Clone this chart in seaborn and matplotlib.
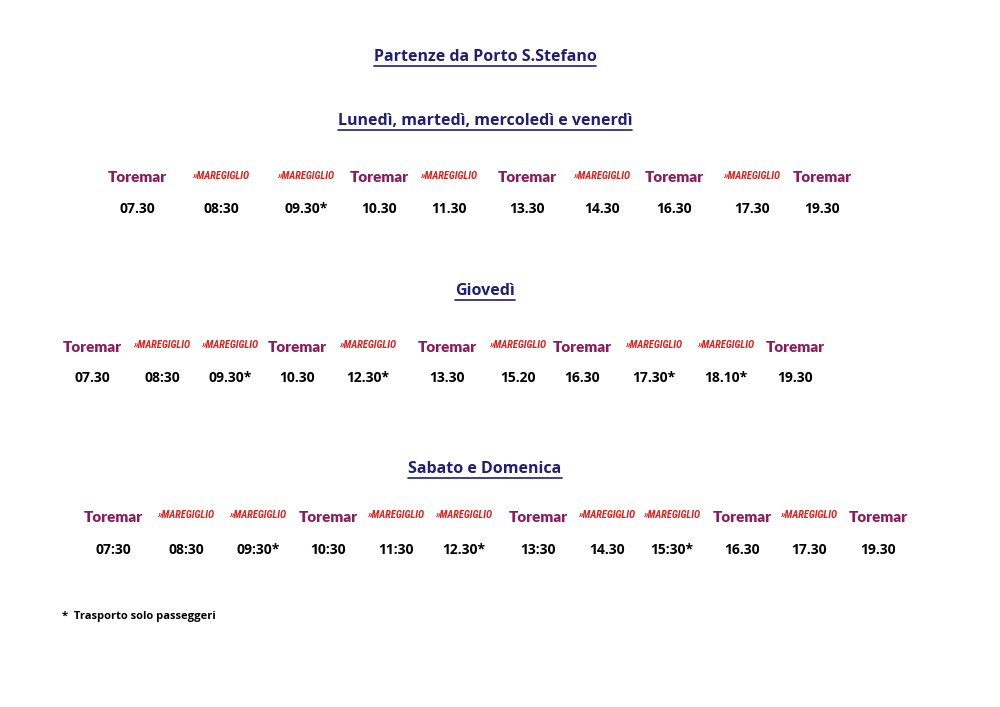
import matplotlib
matplotlib.use("Agg")
import matplotlib.pyplot as plt
import seaborn as sns

sns.set_theme(style="white")
plt.rcParams["font.family"] = ["Open Sans", "DejaVu Sans"]

title = "Partenze da Porto S.Stefano"
footnote = "*  Trasporto solo passeggeri"

days_1 = "Lunedì, martedì, mercoledì e venerdì"
ops_1 = ["T", "M", "M", "T", "M", "T", "M", "T", "M", "T"]
times_1 = ["07.30", "08:30", "09.30*", "10.30", "11.30", "13.30", "14.30", "16.30", "17.30", "19.30"]

days_2 = "Giovedì"
ops_2 = ["T", "M", "M", "T", "M", "T", "M", "T", "M", "M", "T"]
times_2 = ["07.30", "08:30", "09.30*", "10.30", "12.30*", "13.30", "15.20", "16.30", "17.30*", "18.10*", "19.30"]

days_3 = "Sabato e Domenica"
ops_3 = ["T", "M", "M", "T", "M", "M", "T", "M", "M", "T", "M", "T"]
times_3 = ["07:30", "08:30", "09:30*", "10:30", "11:30", "12.30*", "13:30", "14.30", "15:30*", "16.30", "17.30", "19.30"]

# layout: column centres (pixels)
cols_1 = [137, 221, 306, 379, 449, 527, 602, 674, 752, 822]
cols_2 = [92, 162, 230, 297, 368, 447, 518, 582, 654, 726, 795]
cols_3 = [113, 186, 258, 328, 396, 464, 538, 607, 672, 742, 809, 878]

fig = plt.figure(figsize=(10, 7.07), dpi=100)
ax = fig.add_axes([0, 0, 1, 1])
ax.set_xlim(0, 1000)
ax.set_ylim(707, 0)
ax.axis("off")

navy = "#1f1f7a"
purple = "#8c1c5c"
red = "#e0201c"

heads = []


def heading(y, text):
    t = ax.text(485, y, text, ha="center", va="center", fontsize=11.5,
                fontweight="bold", color=navy)
    heads.append(t)


def section(y_logo, y_time, ops, times, cols):
    for op, tm, x in zip(ops, times, cols):
        if op == "T":
            ax.text(x, y_logo, "Toremar", ha="center", va="center", fontsize=11,
                    fontweight="heavy", color=purple, family=["Lato", "DejaVu Sans"])
        else:
            ax.text(x, y_logo - 2, "»MAREGIGLIO", ha="center", va="center", fontsize=7.5,
                    fontweight="bold", fontstyle="italic", color=red,
                    family=["Roboto Condensed", "Liberation Sans Narrow", "DejaVu Sans"])
        ax.text(x, y_time, tm, ha="center", va="center", fontsize=10,
                fontweight="bold", color="black")


heading(57, title)
heading(121, days_1)
section(178, 209, ops_1, times_1, cols_1)
heading(291, days_2)
section(347, 378, ops_2, times_2, cols_2)
heading(469, days_3)
section(517, 550, ops_3, times_3, cols_3)
ax.text(62, 617, footnote, ha="left", va="center", fontsize=8, fontweight="bold", color="black")

# underline headings
fig.canvas.draw()
r = fig.canvas.get_renderer()
inv = ax.transData.inverted()
for t in heads:
    bb = t.get_window_extent(r)
    (x0, y0), (x1, _) = inv.transform([(bb.x0, bb.y0), (bb.x1, bb.y1)])
    ax.plot([x0, x1], [y0 + 1, y0 + 1], color=navy, lw=1.2)

fig.savefig("out.png", dpi=100)
